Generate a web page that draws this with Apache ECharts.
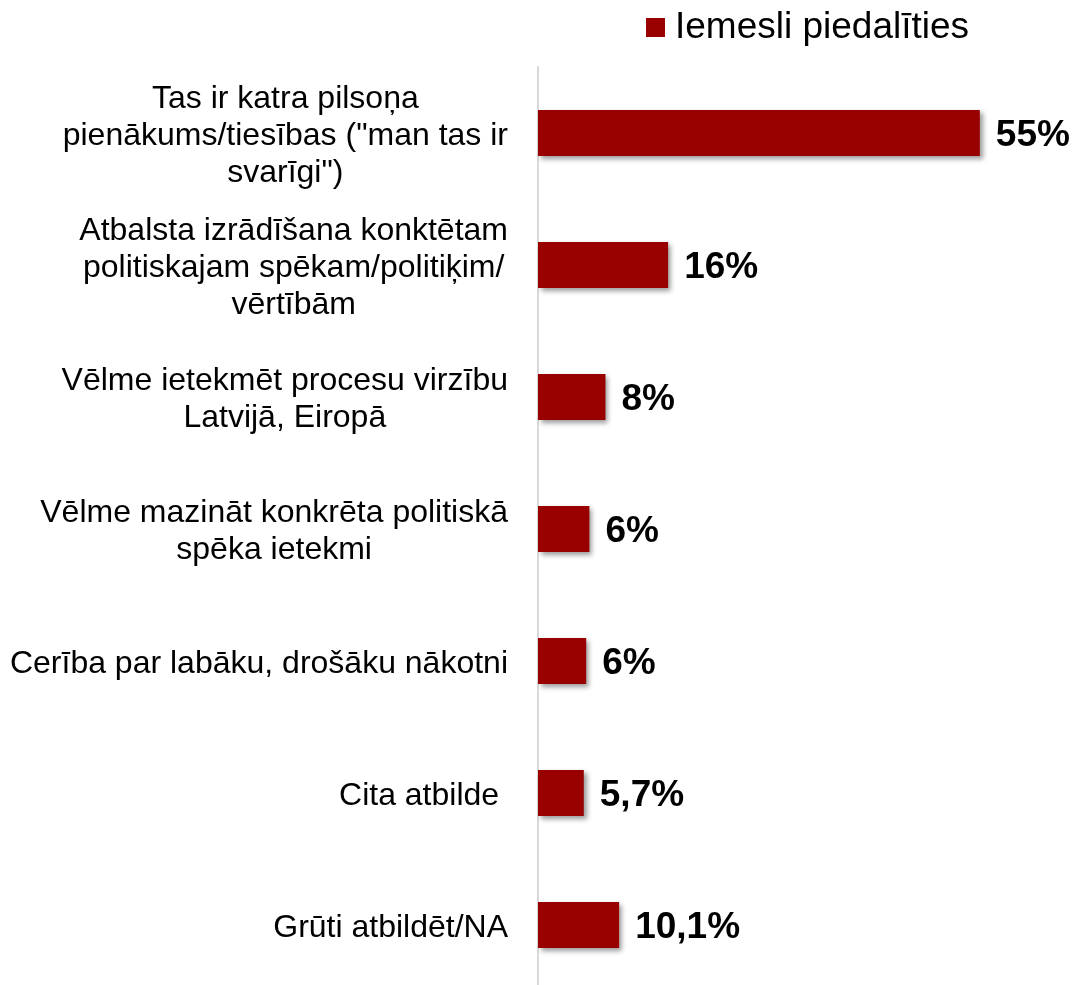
<!DOCTYPE html>
<html>
<head>
<meta charset="utf-8">
<script src="https://cdn.jsdelivr.net/npm/echarts@6/dist/echarts.min.js"></script>
<style>
html,body{margin:0;padding:0;background:#fff;overflow:hidden;}
#chart{width:1076px;height:995px;}
</style>
</head>
<body>
<div id="chart"></div>
<script>
var seriesName = 'Iemesli piedalīties';
var categories = [
  'Tas ir katra pilsoņa\npienākums/tiesības ("man tas ir\nsvarīgi")',
  'Atbalsta izrādīšana konktētam\npolitiskajam spēkam/politiķim/\nvērtībām',
  'Vēlme ietekmēt procesu virzību\nLatvijā, Eiropā',
  'Vēlme mazināt konkrēta politiskā\nspēka ietekmi',
  'Cerība par labāku, drošāku nākotni',
  'Cita atbilde ',
  'Grūti atbildēt/NA'
];
var values = [55, 16.2, 8.4, 6.4, 6.0, 5.7, 10.1];
var valueLabels = ['55%', '16%', '8%', '6%', '6%', '5,7%', '10,1%'];

var FONT = "'Liberation Sans', Arial, sans-serif";
var chart = echarts.init(document.getElementById('chart'));
chart.setOption({
  animation: false,
  backgroundColor: '#ffffff',
  legend: {
    data: [seriesName],
    left: 641,
    top: 4,
    icon: 'rect',
    itemWidth: 19,
    itemHeight: 19,
    itemGap: 10,
    textStyle: { fontFamily: FONT, fontSize: 37, color: '#000', padding: [0, 0, 0, 5] }
  },
  grid: { left: 538, right: 56, top: 67, bottom: 4, containLabel: false },
  xAxis: {
    type: 'value', min: 0, max: 60, show: false,
    splitLine: { show: false }
  },
  yAxis: {
    type: 'category',
    data: categories,
    inverse: true,
    axisTick: { show: false },
    axisLine: { show: true, lineStyle: { color: '#d9d9d9', width: 2 } },
    axisLabel: {
      margin: 30,
      padding: [6, 0, 0, 0],
      formatter: function (v) {
        return v.split('\n').map(function (l) { return '{c|' + l + '}'; }).join('\n');
      },
      rich: {
        c: { align: 'center', fontFamily: FONT, fontSize: 32, lineHeight: 37, color: '#000' }
      }
    }
  },
  series: [{
    name: seriesName,
    type: 'bar',
    data: values,
    barWidth: 46,
    itemStyle: {
      color: '#990000',
      shadowColor: 'rgba(0,0,0,0.4)',
      shadowBlur: 5,
      shadowOffsetX: 3,
      shadowOffsetY: 3
    },
    label: {
      show: true,
      position: 'right',
      distance: 16,
      offset: [0, 3],
      fontFamily: FONT,
      fontSize: 37,
      fontWeight: 'bold',
      color: '#000',
      formatter: function (p) { return valueLabels[p.dataIndex]; }
    }
  }]
});
</script>
</body>
</html>
